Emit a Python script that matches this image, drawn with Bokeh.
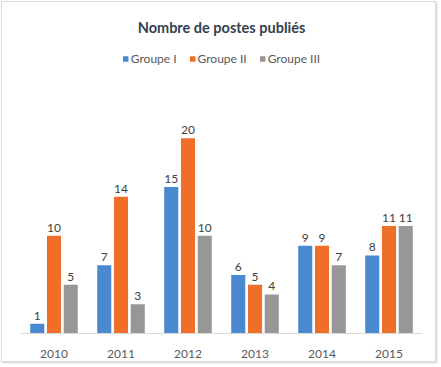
from bokeh.plotting import figure
from bokeh.models import ColumnDataSource, FactorRange, Range1d, Legend, LegendItem
from bokeh.transform import dodge
from bokeh.core.properties import value
from bokeh.embed import file_html
from bokeh.resources import INLINE

years = ["2010", "2011", "2012", "2013", "2014", "2015"]
groupe_1 = [1, 7, 15, 6, 9, 8]
groupe_2 = [10, 14, 20, 5, 9, 11]
groupe_3 = [5, 3, 10, 4, 7, 11]
series_names = ["Groupe I", "Groupe II", "Groupe III"]
colors = ["#4A89CF", "#EE6E2A", "#979797"]

src = ColumnDataSource(dict(
    year=years,
    g1=groupe_1, g2=groupe_2, g3=groupe_3,
    g1s=[str(v) for v in groupe_1],
    g2s=[str(v) for v in groupe_2],
    g3s=[str(v) for v in groupe_3],
))

FONT = "Lato"

p = figure(width=435, height=361, x_range=FactorRange(*years, range_padding=0),
           y_range=Range1d(0, 29.5), output_backend="svg", toolbar_location=None,
           min_border_left=18, min_border_right=15, min_border_top=43, min_border_bottom=30,
           styles={"border": "1px solid #D9DCE1", "margin": "1px",
                   "box-shadow": "1px 1px 2px #D0D0D0"})

p.title.text = "Nombre de postes publiés"
p.title.align = "center"
p.title.text_font = FONT
p.title.text_font_size = "14.5px"
p.title.text_font_style = "bold"
p.title.text_color = "#333F50"
p.title.standoff = 19

offsets = [-0.25, 0.0, 0.25]
keys = ["g1", "g2", "g3"]
renderers = []
for k, off, c in zip(keys, offsets, colors):
    r = p.vbar(x=dodge("year", off, range=p.x_range), top=k, width=0.21, source=src,
               fill_color=c, line_color=None)
    renderers.append(r)
    p.text(x=dodge("year", off, range=p.x_range), y=k, text=k + "s", source=src,
           text_align="center", text_baseline="bottom", y_offset=-4,
           text_font=value(FONT), text_font_size="12px", text_color="#404040")

legend = Legend(items=[LegendItem(label=n, renderers=[r]) for n, r in zip(series_names, renderers)],
                orientation="horizontal", location="top_center",
                glyph_width=7, glyph_height=7, label_standoff=2, spacing=12,
                label_text_font=FONT, label_text_font_size="12px",
                label_text_color="#595959", border_line_color=None,
                background_fill_alpha=0, padding=0, margin=6)
p.add_layout(legend)

p.yaxis.visible = False
p.xgrid.visible = False
p.ygrid.visible = False
p.outline_line_color = None
p.xaxis.axis_line_color = "#D9D9D9"
p.xaxis.major_tick_line_color = None
p.xaxis.minor_tick_line_color = None
p.xaxis.major_label_text_font = FONT
p.xaxis.major_label_text_font_size = "12px"
p.xaxis.major_label_text_color = "#595959"
p.xaxis.major_label_standoff = 10

open("out.html", "w").write(file_html(p, INLINE))
